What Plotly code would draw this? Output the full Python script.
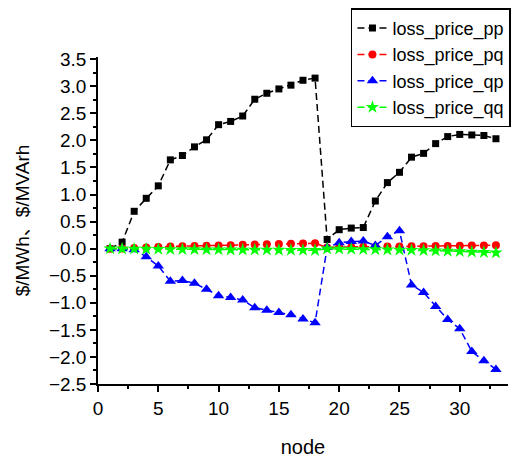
import plotly.graph_objects as go

nodes = list(range(1, 34))
loss_price_pp = [0.0, 0.12, 0.69, 0.93, 1.16, 1.64, 1.72, 1.88, 2.01, 2.29, 2.35, 2.45, 2.76, 2.87, 2.95, 3.02, 3.11, 3.15,
                 0.17, 0.35, 0.38, 0.39, 0.88, 1.22, 1.41, 1.69, 1.76, 1.94, 2.07, 2.11, 2.1, 2.09, 2.03]
loss_price_pq = [0.0, 0.005, 0.01, 0.02, 0.03, 0.04, 0.045, 0.05, 0.055, 0.06, 0.065, 0.07, 0.075, 0.08, 0.085, 0.09, 0.095, 0.1,
                 0.02, 0.03, 0.03, 0.035, 0.035, 0.04, 0.04, 0.045, 0.045, 0.05, 0.05, 0.055, 0.06, 0.06, 0.065]
loss_price_qp = [0.0, 0.0, -0.02, -0.15, -0.32, -0.6, -0.59, -0.64, -0.75, -0.87, -0.9, -0.95, -1.09, -1.14, -1.18, -1.22, -1.3, -1.37,
                 0.02, 0.11, 0.13, 0.14, 0.06, 0.22, 0.33, -0.67, -0.81, -1.07, -1.31, -1.48, -1.9, -2.07, -2.23]
loss_price_qq = [0.0, -0.002, -0.005, -0.007, -0.01, -0.012, -0.014, -0.015, -0.017, -0.018, -0.02, -0.021, -0.022, -0.024, -0.025, -0.026, -0.028, -0.03,
                 -0.002, -0.005, -0.008, -0.012, -0.016, -0.02, -0.024, -0.028, -0.033, -0.038, -0.043, -0.05, -0.058, -0.066, -0.075]

series = [
    ("loss_price_pp", loss_price_pp, "black", "square", 7),
    ("loss_price_pq", loss_price_pq, "red", "circle", 8),
    ("loss_price_qp", loss_price_qp, "blue", "triangle-up", 10),
    ("loss_price_qq", loss_price_qq, "#00ff00", "star", 10),
]

fig = go.Figure()
for name, ys, color, sym, sz in series:
    fig.add_trace(go.Scatter(
        x=nodes, y=ys, name=name, mode="lines+markers",
        line=dict(color=color, width=1.5, dash="7px,4px"),
        marker=dict(color=color, symbol=sym, size=sz, line=dict(width=0)),
    ))

font = "Arial, 'Liberation Sans', 'Noto Sans CJK SC', sans-serif"
fig.update_layout(
    width=512, height=458,
    margin=dict(l=98, r=1, t=57, b=74),
    paper_bgcolor="white", plot_bgcolor="white",
    font=dict(family=font, size=19, color="black"),
    showlegend=True,
    legend=dict(x=0.617, y=1.149, xanchor="left", yanchor="top",
                bordercolor="black", borderwidth=1.5, bgcolor="white",
                font=dict(size=18), tracegroupgap=0, itemwidth=30),
    xaxis=dict(range=[0, 34], tickvals=[0, 5, 10, 15, 20, 25, 30],
               showgrid=False, zeroline=False, showline=True, linecolor="black", linewidth=1.5,
               ticks="outside", ticklen=6, tickwidth=1.5, tickcolor="black",
               minor=dict(ticks="outside", ticklen=3, tickwidth=1.5, tickcolor="black", dtick=2.5, tick0=0, showgrid=False),
               title=dict(text="node", font=dict(size=20), standoff=22)),
    yaxis=dict(range=[-2.5, 3.54], tickvals=[-2.5, -2.0, -1.5, -1.0, -0.5, 0.0, 0.5, 1.0, 1.5, 2.0, 2.5, 3.0, 3.5],
               tickformat=".1f",
               showgrid=False, zeroline=False, showline=True, linecolor="black", linewidth=1.5,
               ticks="outside", ticklen=6, tickwidth=1.5, tickcolor="black",
               minor=dict(ticks="outside", ticklen=3, tickwidth=1.5, tickcolor="black", dtick=0.25, tick0=0, showgrid=False),
               title=dict(text="$/MWh、$/MVArh", font=dict(size=19), standoff=14)),
)
fig.write_html("out.html")
